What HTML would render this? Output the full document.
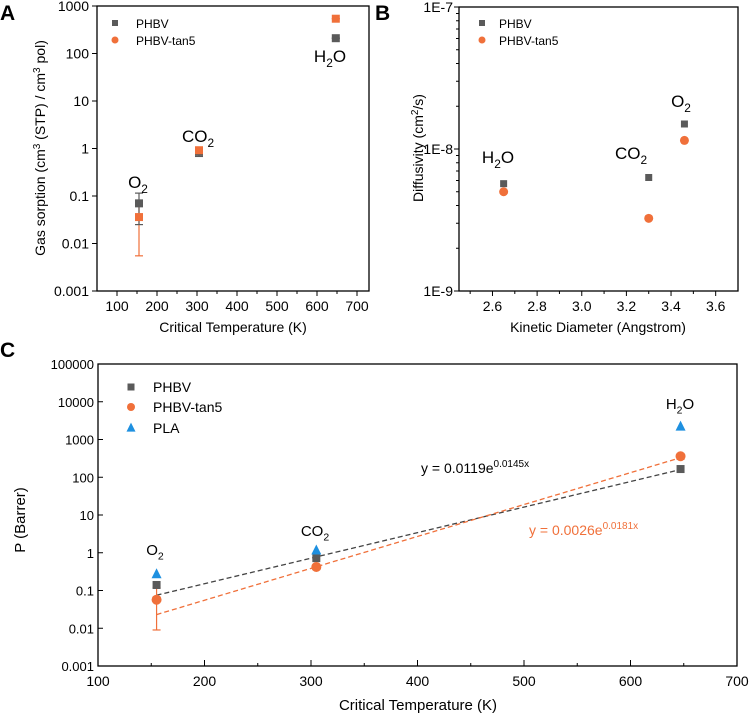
<!DOCTYPE html>
<html><head><meta charset="utf-8"><style>
body{margin:0;background:#fff}
svg{display:block;font-family:"Liberation Sans",Arial,sans-serif}
</style></head><body>
<svg id="fig" width="750" height="717" viewBox="0 0 750 717">
<g id="A"></g>
<g id="B"></g>
<g id="C"></g>
</svg>
<script>
// Panel A data
const aGases = ["O2","CO2","H2O"];
const aTc = [155, 305, 647];
const aPhbv = [0.07, 0.85, 210];
const aPhbvLo = [0.025, 0.68, 210];
const aPhbvHi = [0.115, 1.0, 210];
const aTan = [0.036, 0.92, 540];
const aTanLo = [0.0055, 0.8, 540];
const aTanHi = [0.07, 1.0, 540];
const aXTicks = [100,200,300,400,500,600,700];
const aYTicks = ["0.001","0.01","0.1","1","10","100","1000"];
// Panel B data
const bDiam = [2.65, 3.3, 3.46];
const bPhbv = [5.7e-9, 6.3e-9, 1.5e-8];
const bTan = [5.0e-9, 3.25e-9, 1.15e-8];
const bXTicks = ["2.6","2.8","3.0","3.2","3.4","3.6"];
const bYTicks = ["1E-9","1E-8","1E-7"];
// Panel C data
const cTc = [155, 305, 647];
const cPhbv = [0.14, 0.72, 165];
const cTan = [0.057, 0.42, 360];
const cTanLo = [0.009, 0.36, 300];
const cTanHi = [0.12, 0.48, 420];
const cPla = [0.27, 1.15, 2200];
const cFitX = [155, 647];
const cFitPhbv = [0.075, 160];
const cFitTan = [0.023, 330];
const cXTicks = [100,200,300,400,500,600,700];
const cYTicks = ["0.001","0.01","0.1","1","10","100","1000","10000","100000"];

const NS="http://www.w3.org/2000/svg";
const GRAY="#5a5a5a", ORANGE="#f0703a", BLUE="#1e90e0";
function mk(parent,tag,attrs){const e=document.createElementNS(NS,tag);for(const k in attrs)e.setAttribute(k,attrs[k]);parent.appendChild(e);return e;}
function txt(parent,x,y,s,size,anchor,fill){const t=mk(parent,"text",{x:x,y:y,"font-size":size,"text-anchor":anchor||"start",fill:fill||"#000"});t.textContent=s;return t;}
function gasLabel(parent,x,y,g,size){
  const t=mk(parent,"text",{x:x,y:y,"font-size":size,"text-anchor":"middle"});
  const parts=g==="H2O"?["H","2","O"]:g==="CO2"?["CO","2",""]:["O","2",""];
  const a=mk(t,"tspan",{});a.textContent=parts[0];
  const b=mk(t,"tspan",{dy:size*0.3,"font-size":size*0.7});b.textContent=parts[1];
  if(parts[2]){const c=mk(t,"tspan",{dy:-size*0.3});c.textContent=parts[2];}
  return t;
}
function sq(p,x,y,s,c){return mk(p,"rect",{x:x-s/2,y:y-s/2,width:s,height:s,fill:c});}
function circ(p,x,y,r,c){return mk(p,"circle",{cx:x,cy:y,r:r,fill:c});}
function tri(p,x,y,s,c){return mk(p,"polygon",{points:`${x},${y-s*0.6} ${x-s/2},${y+s*0.4} ${x+s/2},${y+s*0.4}`,fill:c});}
function errbar(p,x,y1,y2,c){
  mk(p,"line",{x1:x,y1:y1,x2:x,y2:y2,stroke:c,"stroke-width":1.2});
  mk(p,"line",{x1:x-4,y1:y1,x2:x+4,y2:y1,stroke:c,"stroke-width":1.2});
  mk(p,"line",{x1:x-4,y1:y2,x2:x+4,y2:y2,stroke:c,"stroke-width":1.2});
}

// ---------- Panel A ----------
(function(){
  const g=document.getElementById("A");
  const L=97,R=369,T=6,Bt=291, xmin=50,xmax=730, ymin=-3,ymax=3;
  const X=v=>L+(v-xmin)/(xmax-xmin)*(R-L);
  const Y=v=>Bt-(Math.log10(v)-ymin)/(ymax-ymin)*(Bt-T);
  const box=mk(g,"rect",{x:L,y:T,width:R-L,height:Bt-T,fill:"none",stroke:"#000","stroke-width":1.3});
  
  
  aXTicks.forEach(v=>{mk(g,"line",{x1:X(v),y1:Bt,x2:X(v),y2:Bt+5,stroke:"#000"});txt(g,X(v),Bt+20,String(v),14,"middle");});
  for(let v=150;v<730;v+=100) mk(g,"line",{x1:X(v),y1:Bt,x2:X(v),y2:Bt+3,stroke:"#000"});
  aYTicks.forEach(s=>{const y=Y(parseFloat(s));mk(g,"line",{x1:L,y1:y,x2:L-5,y2:y,stroke:"#000"});txt(g,L-8,y+5,s,14,"end");});
  txt(g,233,332,"Critical Temperature (K)",14,"middle");
  const yt=txt(g,0,0,"",14,"middle");yt.setAttribute("transform","translate(45,148) rotate(-90)");
  yt.innerHTML='Gas sorption (cm<tspan dy="-5" font-size="10">3</tspan><tspan dy="5"> (STP) / cm</tspan><tspan dy="-5" font-size="10">3</tspan><tspan dy="5"> pol)</tspan>';
  
  
  aTc.forEach((t,i)=>{
    errbar(g,X(t),Y(aTanLo[i]),Y(aTanHi[i]),ORANGE);
    errbar(g,X(t),Y(aPhbvLo[i]),Y(aPhbvHi[i]),GRAY);
    const m1=sq(g,X(t),Y(aPhbv[i]),8,GRAY);
    
    
    const m2=sq(g,X(t),Y(aTan[i]),8,ORANGE);
    
    
  });
  gasLabel(g,138,188,"O2",17);gasLabel(g,198,142,"CO2",17);gasLabel(g,330,62,"H2O",17);
  sq(g,115,23,6,GRAY);txt(g,136,28,"PHBV",12);
  circ(g,115,40,3.5,ORANGE);txt(g,136,45,"PHBV-tan5",12);
  txt(g,0,20,"A",21).setAttribute("font-weight","bold");
})();

// ---------- Panel B ----------
(function(){
  const g=document.getElementById("B");
  const L=459,R=738,T=7,Bt=291, xmin=2.45,xmax=3.7, ymin=-9,ymax=-7;
  const X=v=>L+(v-xmin)/(xmax-xmin)*(R-L);
  const Y=v=>Bt-(Math.log10(v)-ymin)/(ymax-ymin)*(Bt-T);
  const box=mk(g,"rect",{x:L,y:T,width:R-L,height:Bt-T,fill:"none",stroke:"#000","stroke-width":1.3});
  
  
  bXTicks.forEach(s=>{const x=X(parseFloat(s));mk(g,"line",{x1:x,y1:Bt,x2:x,y2:Bt+5,stroke:"#000"});txt(g,x,Bt+20,s,14,"middle");});
  for(let v=2.5;v<3.7;v+=0.2) mk(g,"line",{x1:X(v),y1:Bt,x2:X(v),y2:Bt+3,stroke:"#000"});
  bYTicks.forEach((s,i)=>{const y=Y(Math.pow(10,-9+i));mk(g,"line",{x1:L,y1:y,x2:L-5,y2:y,stroke:"#000"});txt(g,L-6,y+5,s,14,"end");});
  for(let d=-9;d<-7;d++)for(let k=2;k<10;k++){const y=Y(k*Math.pow(10,d));mk(g,"line",{x1:L,y1:y,x2:L-3,y2:y,stroke:"#000"});}
  txt(g,598,332,"Kinetic Diameter (Angstrom)",14,"middle");
  const yt=txt(g,0,0,"",14,"middle");yt.setAttribute("transform","translate(423,148) rotate(-90)");
  yt.innerHTML='Diffusivity (cm<tspan dy="-5" font-size="10">2</tspan><tspan dy="5">/s)</tspan>';
  bDiam.forEach((d,i)=>{
    const m1=sq(g,X(d),Y(bPhbv[i]),7,GRAY);
    
    
    const m2=circ(g,X(d),Y(bTan[i]),4.5,ORANGE);
    
    
  });
  gasLabel(g,498,163,"H2O",17);gasLabel(g,631,159,"CO2",17);gasLabel(g,681,107,"O2",17);
  sq(g,482,23,6,GRAY);txt(g,499,28,"PHBV",12);
  circ(g,482,40,3.5,ORANGE);txt(g,499,45,"PHBV-tan5",12);
  txt(g,375,20,"B",21).setAttribute("font-weight","bold");
})();

// ---------- Panel C ----------
(function(){
  const g=document.getElementById("C");
  const L=98,R=737,T=364,Bt=666, xmin=100,xmax=700, ymin=-3,ymax=5;
  const X=v=>L+(v-xmin)/(xmax-xmin)*(R-L);
  const Y=v=>Bt-(Math.log10(v)-ymin)/(ymax-ymin)*(Bt-T);
  const box=mk(g,"rect",{x:L,y:T,width:R-L,height:Bt-T,fill:"none",stroke:"#000","stroke-width":1.3});
  
  
  cXTicks.forEach(v=>{mk(g,"line",{x1:X(v),y1:Bt,x2:X(v),y2:Bt-6,stroke:"#000"});txt(g,X(v),Bt+20,String(v),14,"middle");});
  for(let v=150;v<700;v+=100) mk(g,"line",{x1:X(v),y1:Bt,x2:X(v),y2:Bt-3,stroke:"#000"});
  cYTicks.forEach(s=>{const y=Y(parseFloat(s));mk(g,"line",{x1:L,y1:y,x2:L+5,y2:y,stroke:"#000"});txt(g,L-4,y+5,s,13,"end");});
  txt(g,418,710,"Critical Temperature (K)",15,"middle");
  const yt=txt(g,0,0,"P (Barrer)",15,"middle");yt.setAttribute("transform","translate(25,520) rotate(-90)");
  const f1=mk(g,"line",{x1:X(cFitX[0]),y1:Y(cFitPhbv[0]),x2:X(cFitX[1]),y2:Y(cFitPhbv[1]),stroke:"#444","stroke-width":1.3,"stroke-dasharray":"5,3"});
  
  
  const f2=mk(g,"line",{x1:X(cFitX[0]),y1:Y(cFitTan[0]),x2:X(cFitX[1]),y2:Y(cFitTan[1]),stroke:ORANGE,"stroke-width":1.3,"stroke-dasharray":"5,3"});
  
  
  cTc.forEach((t,i)=>{
    errbar(g,X(t),Y(cTanLo[i]),Y(cTanHi[i]),ORANGE);
    const m1=sq(g,X(t),Y(cPhbv[i]),8,GRAY);
    
    
    const m2=circ(g,X(t),Y(cTan[i]),5,ORANGE);
    
    
    const m3=tri(g,X(t),Y(cPla[i]),10,BLUE);
    
    
  });
  gasLabel(g,155,555,"O2",15);gasLabel(g,315,536,"CO2",15);gasLabel(g,680,409,"H2O",15);
  const e1=txt(g,421,473,"",14);e1.innerHTML='y = 0.0119e<tspan dy="-6" font-size="10">0.0145x</tspan>';
  const e2=txt(g,529,535,"",14,"start",ORANGE);e2.innerHTML='y = 0.0026e<tspan dy="-6" font-size="10">0.0181x</tspan>';
  sq(g,131,387,7,GRAY);txt(g,153,392,"PHBV",14);
  circ(g,131,407,4,ORANGE);txt(g,153,412,"PHBV-tan5",14);
  tri(g,131,428,9,BLUE);txt(g,153,433,"PLA",14);
  txt(g,0,357,"C",21).setAttribute("font-weight","bold");
})();
</script>
</body></html>
